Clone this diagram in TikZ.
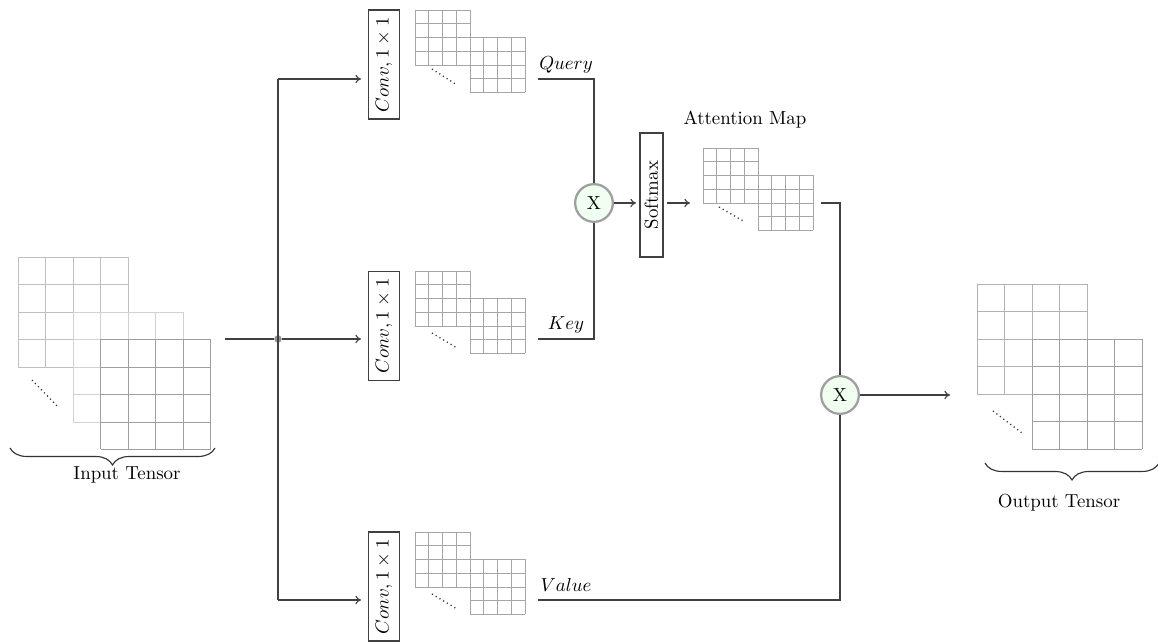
\documentclass[tikz,border=0pt]{standalone}
\usetikzlibrary{arrows.meta,decorations.pathreplacing}
\newcommand{\tensorgrid}[4]{%
  \foreach \k in {0,1,2,3,4}{%
    \draw[#4] ({#1+\k*#3},{#2}) -- ({#1+\k*#3},{#2+4*#3});
    \draw[#4] ({#1},{#2+\k*#3}) -- ({#1+4*#3},{#2+\k*#3});
  }}
\tikzset{
  conn/.style={draw=black!75, line width=0.6pt},
  arr/.style={conn, -{To[length=3pt,width=4.5pt]}},
  convbox/.style={draw=black!75, line width=0.6pt, rotate=90, minimum width=57.8pt, minimum height=16pt, inner sep=1pt},
  smbox/.style={draw=black!75, line width=0.6pt, rotate=90, minimum width=65.7pt, minimum height=12.2pt, inner sep=0.5pt},
  mulnode/.style={circle, draw=gray!75, line width=1.2pt, fill=green!6, minimum size=20pt, inner sep=0pt},
  junction/.style={circle, fill=gray!85, minimum size=4pt, inner sep=0pt},
  gline/.style={gray!70, line width=0.5pt},
  dots/.style={black!80, line width=0.7pt, dash pattern=on 0.6pt off 1.7pt},
  tensorbrace/.style={draw=black!80, line width=0.6pt, decorate, decoration={brace, mirror, amplitude=9pt}},
  lbl/.style={inner sep=0pt, anchor=base}
}
\begin{document}
\begin{tikzpicture}[x=0.53pt, y=-0.53pt]
\useasboundingbox (0,0) rectangle (1158,644);

% input tensor
\tensorgrid{18}{257}{27.5}{gray!50, line width=0.5pt}
\tensorgrid{73}{312}{27.5}{gray!35, line width=0.5pt}
\tensorgrid{100.5}{339.5}{27.5}{gray!75, line width=0.5pt}
\draw[dots] (32,380) -- (59,408);
\coordinate (ib1) at (10,448);
\coordinate (ib2) at (215,448);
\draw[tensorbrace] (ib1) -- (ib2);
\node[inner sep=0pt] (intxt) at (127,475) {Input Tensor};

% output tensor
\tensorgrid{977}{284}{27.5}{gray!60, line width=0.5pt}
\tensorgrid{1032}{339}{27.5}{gray!75, line width=0.5pt}
\draw[dots] (993,411) -- (1022,433);
\coordinate (ob1) at (985,463);
\coordinate (ob2) at (1159,463);
\draw[tensorbrace] (ob1) -- (ob2);
\node[inner sep=0pt] (outtxt) at (1059,503) {Output Tensor};

% conv boxes
\node[convbox] (qconv) at (384,64.5) {$Conv, 1\times 1$};
\node[convbox] (kconv) at (384,326) {$Conv, 1\times 1$};
\node[convbox] (vconv) at (384,586.5) {$Conv, 1\times 1$};

% small feature maps
\tensorgrid{415}{10}{13.75}{gline}
\tensorgrid{470}{37.5}{13.75}{gline}
\draw[dots] (432,69) -- (457,85);
\tensorgrid{415}{271}{13.75}{gline}
\tensorgrid{470}{298.5}{13.75}{gline}
\draw[dots] (432,333) -- (457,348);
\tensorgrid{415}{532}{13.75}{gline}
\tensorgrid{470}{559.5}{13.75}{gline}
\draw[dots] (432,594) -- (457,609);

% attention map
\tensorgrid{703}{148}{13.75}{gline}
\tensorgrid{758}{175.5}{13.75}{gline}
\draw[dots] (719,207) -- (745,222);
\node[inner sep=0pt] (attxt) at (745,120) {Attention Map};

% labels
\node[lbl] (qlbl) at (566,70) {$Query$};
\node[lbl] (klbl) at (566,330) {$Key$};
\node[lbl] (vlbl) at (566,592) {$Value$};

% operators
\node[mulnode] (m1) at (594,203) {X};
\node[smbox] (sm) at (651.5,195) {Softmax};
\node[mulnode] (m2) at (840,395) {X};

% branching
\coordinate (instart) at (225,339);
\node[junction] (jn) at (278,339) {};
\coordinate (qa) at (278,79);
\coordinate (va) at (278,600);
\coordinate (qtip) at (361,79);
\coordinate (ktip) at (361,339);
\coordinate (vtip) at (361,600);
\draw[conn] (instart) -- (jn);
\draw[conn] (qa) -- (va);
\draw[arr] (qa) -- (qtip);
\draw[arr] (jn) -- (ktip);
\draw[arr] (va) -- (vtip);

% query / key to first product
\coordinate (qout) at (538,79);
\coordinate (qc) at (594,79);
\coordinate (kout) at (538,339);
\coordinate (kc) at (594,339);
\draw[conn] (qout) -- (qc) -- (m1);
\draw[conn] (kout) -- (kc) -- (m1);

% softmax
\coordinate (smin) at (636,203);
\coordinate (smout) at (667,203);
\coordinate (atin) at (690,203);
\draw[arr] (m1) -- (smin);
\draw[arr] (smout) -- (atin);

% attention to second product
\coordinate (aout) at (821,203);
\coordinate (ac) at (840,203);
\draw[conn] (aout) -- (ac) -- (m2);
\coordinate (vout) at (538,600);
\coordinate (vc) at (840,600);
\draw[conn] (vout) -- (vc) -- (m2);

% output
\coordinate (otip) at (950,395);
\draw[arr] (m2) -- (otip);
\end{tikzpicture}
\end{document}
